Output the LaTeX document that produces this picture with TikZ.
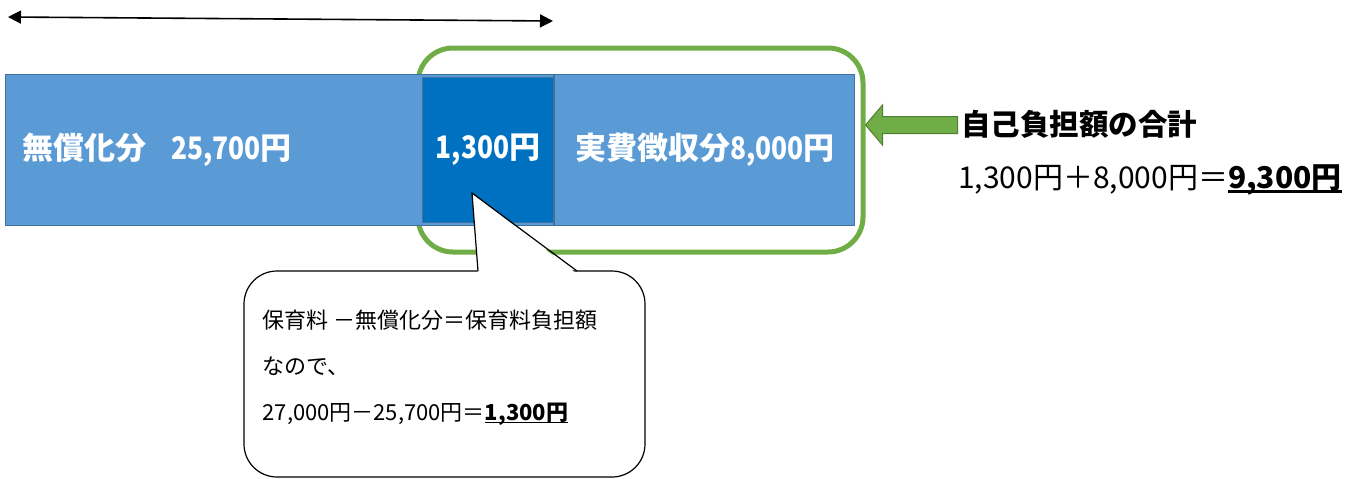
\documentclass[tikz,border=0pt]{standalone}
\usepackage{fontspec}
\newfontfamily\jp{Noto Sans CJK JP}
\newfontfamily\jpnum{Noto Sans CJK JP}[FakeStretch=0.85]
\usetikzlibrary{positioning,arrows.meta}
\definecolor{barblue}{HTML}{5B9BD5}
\definecolor{barline}{HTML}{41719C}
\definecolor{ownblue}{HTML}{0070C0}
\definecolor{sumgreen}{HTML}{70AD47}
\definecolor{sumline}{HTML}{507E32}
\newcommand{\ulamount}[1]{\setbox0\hbox{#1}\rlap{\rule[-0.14em]{\wd0}{0.08em}}\box0}
\newcommand{\amt}[1]{{\jpnum #1}}

\begin{document}
\begin{tikzpicture}[x=1pt,y=-1pt]
                        \tikzstyle{seg}=[draw=barline, line width=1.2pt, fill=barblue, text=white, minimum height=151pt, inner sep=0pt, font=\jp\bfseries\fontsize{31}{31}\selectfont]
                        \tikzstyle{ownseg}=[seg, fill=ownblue, minimum height=145pt]
                        \tikzstyle{frame}=[draw=sumgreen, line width=5pt, rounded corners=35pt, minimum width=445pt, minimum height=204pt]
                        \tikzstyle{memo}=[draw=black, line width=1.2pt, fill=white, rounded corners=33pt, minimum width=401pt, minimum height=206pt]
                        \tikzstyle{memotext}=[align=left, inner sep=0pt, font=\jp\fontsize{22}{46}\selectfont]
                        \tikzstyle{pointer}=[black, line width=1.2pt]
                        \tikzstyle{sumarrow}=[draw=sumline, fill=sumgreen, line width=1pt]
                        \useasboundingbox (0,0) rectangle (1360,479);
                        \coordinate (feel) at (8,17);
                        \coordinate (feer) at (553,21);
                        \draw[{Triangle[length=13pt,width=13pt]}-{Triangle[length=13pt,width=13pt]}, line width=1.6pt] (feel) -- (feer);
                        \node[frame] (sum) at (640.5,150) {};
                        \node[seg, minimum width=548pt, text width=514pt, align=left, anchor=north west] (free) at (5,74) {無償化分\hspace{0.8em}\amt{25,700}円};
                        \node[ownseg, minimum width=131pt, anchor=east] (own) at (free.east) {\amt{1,300}円};
                        \node[seg, minimum width=300pt, right=0pt of free] (actual) {実費徴収分\amt{8,000}円};
                        \node[memo] (memo) at (444.5,374) {};
                        \coordinate (tip) at (472,193);
                        \coordinate (pl) at (478,271);
                        \coordinate (pr) at (577,271);
                        \fill[white] (tip) -- ([yshift=-3pt]pl) -- ([yshift=-3pt]pr) -- cycle;
                        \draw[pointer] (pl) -- (tip) -- (pr);
                        \node[memotext, anchor=west] (calc) at ([xshift=19pt,yshift=6.5pt]memo.west) {保育料 －無償化分＝保育料負担額\\なので、\\27,000円－25,700円＝\textbf{\ulamount{1,300円}}};
                        \draw[sumarrow] ([yshift=25pt]sum.east) -- ++(17,-20) -- ++(0,11.5) -- ++(75,0) -- ++(0,17) -- ++(-75,0) -- ++(0,11.5) -- cycle;
                        \node[anchor=west, inner sep=0pt, font=\jp\bfseries\fontsize{29.5}{30}\selectfont] (title) at (961,124) {自己負担額の合計};
                        \node[anchor=west, inner sep=0pt, font=\jp\fontsize{30}{32}\selectfont] (total) at (958,180) {1,300円＋8,000円＝\textbf{\ulamount{9,300円}}};
                    \end{tikzpicture}
\end{document}
